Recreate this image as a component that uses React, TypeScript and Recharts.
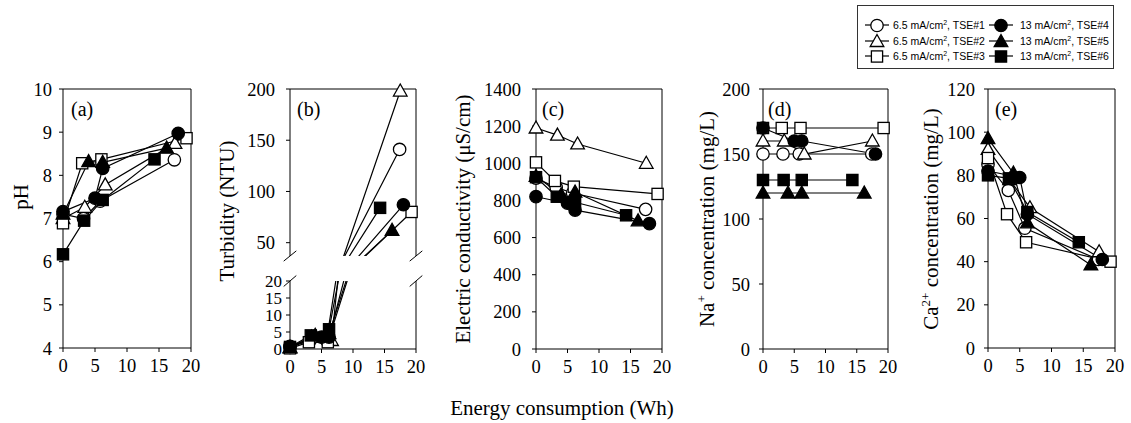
import React from 'react';
import { LineChart, Line, XAxis, YAxis, ReferenceLine } from 'recharts';

// ---------- data ----------
const currentLabels = ['6.5', '6.5', '6.5', '13', '13', '13'];
const tseLabels = ['TSE#1', 'TSE#2', 'TSE#3', 'TSE#4', 'TSE#5', 'TSE#6'];
const seriesShapes = ['circle', 'triangle', 'square', 'circle', 'triangle', 'square'];
const seriesFilled = [false, false, false, true, true, true];

// energy consumption (Wh) of each sampling point, per series
const energyTSE1 = [0, 3.2, 5.8, 17.4];
const energyTSE2 = [0, 3.4, 6.6, 17.5];
const energyTSE3 = [0, 3.0, 6.0, 19.3];
const energyTSE4 = [0, 5.0, 6.2, 18.0];
const energyTSE5 = [0, 4.0, 6.2, 16.2];
const energyTSE6 = [0, 3.3, 6.2, 14.3];
const energyBySeries = [energyTSE1, energyTSE2, energyTSE3, energyTSE4, energyTSE5, energyTSE6];

const phValues = [
  [7.1, 7.0, 7.4, 8.36],
  [7.0, 7.26, 7.78, 8.74],
  [6.89, 8.28, 8.37, 8.86],
  [7.16, 7.47, 8.16, 8.97],
  [7.1, 8.32, 8.3, 8.63],
  [6.17, 6.95, 7.43, 8.37],
];
const turbidityValues = [
  [0.5, 2.5, 2.5, 141],
  [0.3, 3.5, 2.5, 198],
  [0.2, 2.0, 2.0, 80],
  [0.8, 3.5, 3.5, 87],
  [0.5, 4.0, 4.5, 62],
  [0.6, 4.0, 5.8, 84],
];
const conductivityValues = [
  [920, 870, 840, 752],
  [1190, 1152, 1104, 1000],
  [1005, 905, 874, 835],
  [820, 785, 748, 675],
  [930, 830, 845, 690],
  [925, 820, 790, 720],
];
const sodiumValues = [
  [150, 150, 150, 150],
  [160, 160, 150, 160],
  [170, 170, 170, 170],
  [170, 160, 160, 150],
  [120, 120, 120, 120],
  [130, 130, 130, 130],
];
const calciumValues = [
  [85, 73, 55.5, 41],
  [92, 78, 65, 44.6],
  [88, 62, 49, 40],
  [82, 79, 62, 41],
  [97, 81, 58, 38.5],
  [80, 78.6, 63, 49],
];

const xTicks = [0, 5, 10, 15, 20];
const phTicks = [4, 5, 6, 7, 8, 9, 10];
const turbUpperTicks = [50, 100, 150, 200];
const turbLowerTicks = [0, 5, 10, 15, 20];
const ecTicks = [0, 200, 400, 600, 800, 1000, 1200, 1400];
const naTicks = [0, 50, 100, 150, 200];
const caTicks = [0, 20, 40, 60, 80, 100, 120];

// ---------- styling ----------
const SERIF = "'Liberation Serif', 'Times New Roman', Times, serif";
const SANS = "'Liberation Sans', Arial, Helvetica, sans-serif";
const TICK_FS = 18.5;
const YW = 70;
const MT = 10;
const MR = 10;
const XH = 40;

function Marker({ cx, cy, shape, filled }: any) {
  if (cx == null || cy == null) return null;
  const fill = filled ? '#000' : '#fff';
  const sw = 1.3;
  if (shape === 'circle') return <circle cx={cx} cy={cy} r={6.2} fill={fill} stroke="#000" strokeWidth={sw} />;
  if (shape === 'square') return <rect x={cx - 5.6} y={cy - 5.6} width={11.2} height={11.2} fill={fill} stroke="#000" strokeWidth={sw} />;
  return <polygon points={`${cx},${cy - 7} ${cx + 6.8},${cy + 5} ${cx - 6.8},${cy + 5}`} fill={fill} stroke="#000" strokeWidth={sw} />;
}

function makeTick(axis: 'x' | 'y', fs: number) {
  return (tp: any) => {
    const { x, y, payload } = tp;
    return (
      <text
        x={x} y={y}
        dy={axis === 'x' ? '0.71em' : '0.355em'}
        textAnchor={axis === 'x' ? 'middle' : 'end'}
        fill="#000"
        style={{ fontFamily: SERIF, fontSize: fs }}
      >
        {payload.value}
      </text>
    );
  };
}

function seriesPoints(values: number[][], s: number) {
  return energyBySeries[s].map((x, i) => ({ x, y: values[s][i] }));
}

type PanelProps = {
  left: number; top: number; w: number; h: number;
  values: number[][]; domain: [number, number]; ticks: number[];
  showX?: boolean; topBorder?: boolean; clip?: boolean;
  tickGap?: number; tickFs?: number;
  breakAt?: 'bottom' | 'top'; breakDy?: number;
};

function Panel(p: PanelProps) {
  const showX = p.showX !== false;
  const height = MT + p.h + (showX ? XH : MT);
  const width = YW + p.w + MR;
  const gap = p.tickGap ?? 11;
  const fs = p.tickFs ?? TICK_FS;
  const markAxis = p.clip ? 'm' : 'l';
  const [d0, d1] = p.domain;
  const brk = p.breakAt;
  const bdy = p.breakDy ?? 0;
  const by = brk === 'bottom' ? d0 : d1;
  return (
    <div style={{ position: 'absolute', left: p.left - YW, top: p.top - MT }}>
      <LineChart width={width} height={height}
        margin={{ top: MT, right: MR, bottom: showX ? 0 : MT, left: 0 }}>
        <XAxis
          type="number" dataKey="x" domain={[0, 20]} ticks={xTicks} interval={0}
          hide={!showX} tickSize={4} tickMargin={7} height={XH}
          tick={makeTick('x', TICK_FS)} axisLine={{ stroke: '#000', strokeWidth: 1 }} tickLine={{ stroke: '#000' }}
        />
        <YAxis
          yAxisId="l" type="number" domain={p.domain} ticks={p.ticks} interval={0}
          allowDataOverflow={!!p.clip} width={YW} tickSize={4} tickMargin={gap - 4}
          tick={makeTick('y', fs)} axisLine={{ stroke: '#000', strokeWidth: 1 }} tickLine={{ stroke: '#000' }}
        />
        {p.clip && <YAxis yAxisId="m" type="number" domain={p.domain} hide />}
        {p.topBorder !== false && <ReferenceLine yAxisId="l" y={d1} stroke="#000" strokeWidth={1} />}
        <ReferenceLine yAxisId="l" x={20} stroke="#000" strokeWidth={1} />
        {brk && (
          <ReferenceLine yAxisId="l" ifOverflow="visible" stroke="#000" strokeWidth={1}
            segment={[{ x: -1, y: by - bdy }, { x: 1, y: by + bdy }]} />
        )}
        {brk && (
          <ReferenceLine yAxisId="l" ifOverflow="visible" stroke="#000" strokeWidth={1}
            segment={[{ x: 19, y: by - bdy }, { x: 21, y: by + bdy }]} />
        )}
        {p.clip &&
          seriesShapes.map((_, s) => (
            <Line key={`ln${s}`} yAxisId="l" data={seriesPoints(p.values, s)} dataKey="y" type="linear"
              stroke="#000" strokeWidth={1.2} dot={false} activeDot={false} isAnimationActive={false} />
          ))}
        {seriesShapes.map((shape, s) => {
          const pts = seriesPoints(p.values, s);
          const data = p.clip ? pts.filter((d) => d.y >= d0 && d.y <= d1) : pts;
          return (
            <Line key={`mk${s}`} yAxisId={markAxis} data={data} dataKey="y" type="linear"
              stroke={p.clip ? 'none' : '#000'} strokeWidth={1.2} activeDot={false} isAnimationActive={false}
              dot={(dp: any) => (
                <Marker key={`m${s}-${dp.index}`} cx={dp.cx} cy={dp.cy} shape={shape} filled={seriesFilled[s]} />
              )}
            />
          );
        })}
      </LineChart>
    </div>
  );
}

function RotLabel({ cx, cy, children }: any) {
  const W = 320;
  const LH = 24;
  return (
    <div
      style={{
        position: 'absolute', left: cx - W / 2, top: cy - LH / 2, width: W, height: LH,
        lineHeight: `${LH}px`, textAlign: 'center', transform: 'rotate(-90deg)', transformOrigin: '50% 50%',
        fontFamily: SERIF, fontSize: 21, color: '#000', whiteSpace: 'nowrap',
      }}
    >
      {children}
    </div>
  );
}

function PanelTag({ left, text }: any) {
  return (
    <div style={{ position: 'absolute', left, top: 99, fontFamily: SERIF, fontSize: 20, lineHeight: '20px', color: '#000' }}>
      {text}
    </div>
  );
}

function LegendItem({ s, top }: any) {
  const col2 = s >= 3;
  const markerLeft = col2 ? 131 : 7;
  const textLeft = col2 ? 162 : 35;
  return (
    <>
      <svg style={{ position: 'absolute', left: markerLeft, top: top - 8 }} width={24} height={16}>
        <line x1={0} y1={8} x2={24} y2={8} stroke="#000" strokeWidth={1.2} />
        <Marker cx={12} cy={8.5} shape={seriesShapes[s]} filled={seriesFilled[s]} />
      </svg>
      <div style={{ position: 'absolute', left: textLeft, top: top - 7, fontFamily: SANS, fontSize: 10.5, lineHeight: '14px', color: '#000', whiteSpace: 'nowrap' }}>
        {currentLabels[s]} mA/cm<sup style={{ fontSize: 7, lineHeight: 0 }}>2</sup>, {tseLabels[s]}
      </div>
    </>
  );
}

export default function App() {
  const rowY = [20, 35.5, 51];
  return (
    <div style={{ position: 'absolute', left: 0, top: 0, width: 1131, height: 423, background: '#fff', overflow: 'hidden', fontFamily: SERIF }}>
      <Panel left={63} top={89} w={128} h={259} values={phValues} domain={[4, 10]} ticks={phTicks} tickGap={11} />
      <Panel left={290} top={89} w={126} h={167} values={turbidityValues} domain={[37, 200]} ticks={turbUpperTicks}
        showX={false} clip tickGap={15} breakAt="bottom" breakDy={5} />
      <Panel left={290} top={281} w={126} h={68} values={turbidityValues} domain={[0, 20]} ticks={turbLowerTicks}
        topBorder={false} clip tickGap={8} tickFs={17} breakAt="top" breakDy={1.6} />
      <Panel left={536} top={89} w={126} h={260} values={conductivityValues} domain={[0, 1400]} ticks={ecTicks} tickGap={15} />
      <Panel left={763} top={89} w={125} h={260} values={sodiumValues} domain={[0, 200]} ticks={naTicks} tickGap={13} />
      <Panel left={988} top={89} w={127} h={259} values={calciumValues} domain={[0, 120]} ticks={caTicks} tickGap={13} />

      <PanelTag left={71} text="(a)" />
      <PanelTag left={297} text="(b)" />
      <PanelTag left={542} text="(c)" />
      <PanelTag left={768} text="(d)" />
      <PanelTag left={995} text="(e)" />

      <RotLabel cx={21} cy={197}>pH</RotLabel>
      <RotLabel cx={227} cy={211}>Turbidity (NTU)</RotLabel>
      <RotLabel cx={463} cy={219}>Electric conductivity (μS/cm)</RotLabel>
      <RotLabel cx={707} cy={219}>
        Na<sup style={{ fontSize: 13, lineHeight: 0 }}>+</sup> concentration (mg/L)
      </RotLabel>
      <RotLabel cx={931} cy={219}>
        Ca<sup style={{ fontSize: 13, lineHeight: 0 }}>2+</sup> concentration (mg/L)
      </RotLabel>

      <div style={{ position: 'absolute', left: 362, top: 395, width: 400, textAlign: 'center', fontFamily: SERIF, fontSize: 21, lineHeight: '26px', color: '#000' }}>
        Energy consumption (Wh)
      </div>

      <div style={{ position: 'absolute', left: 857, top: 5, width: 257, height: 64, border: '1px solid #333', boxSizing: 'border-box', background: '#fff' }}>
        {[0, 1, 2, 3, 4, 5].map((s) => (
          <LegendItem key={s} s={s} top={rowY[s % 3] - 1} />
        ))}
      </div>
    </div>
  );
}
